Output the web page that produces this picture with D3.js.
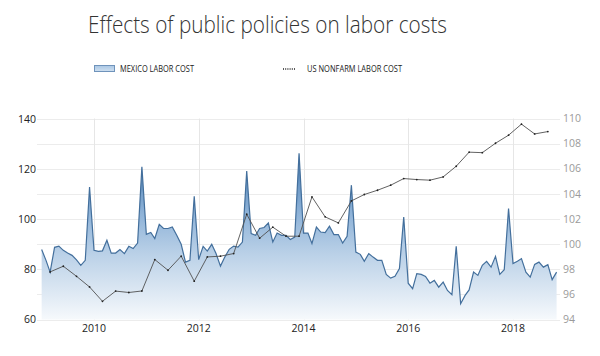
<!DOCTYPE html>
<html>
<head>
<meta charset="utf-8">
<script src="https://cdn.jsdelivr.net/npm/d3@7/dist/d3.min.js"></script>
<style>
  html, body { margin: 0; padding: 0; background: #fff; }
  svg { display: block; }
</style>
</head>
<body>
<svg id="chart" width="600" height="356"></svg>
<script>
// ---------- DATA ----------
const title = "Effects of public policies on labor costs";
const seriesNames = ["MEXICO LABOR COST", "US NONFARM LABOR COST"];

// Mexico labor cost, monthly, starting Jan 2009 (left axis)
const mexicoStart = [2009, 0];
const mexicoValues = [
  87.9, 83.5, 78.9, 88.8, 89.3, 87.6, 86.5, 85.6, 83.8, 81.6, 83.6, 112.9,
  87.6, 87.2, 87.4, 91.6, 86.5, 86.5, 87.9, 86.3, 89.2, 88.3, 90.5, 120.9,
  94.0, 94.7, 92.3, 98.0, 96.3, 96.3, 96.9, 93.6, 90.0, 82.9, 83.6, 109.2,
  83.9, 89.2, 87.3, 90.0, 86.3, 81.3, 84.9, 88.0, 89.3, 88.9, 90.9, 119.2,
  94.3, 93.6, 96.3, 96.7, 98.5, 90.9, 94.5, 93.6, 93.6, 91.9, 92.9, 126.3,
  94.5, 94.5, 90.3, 96.9, 94.9, 94.7, 97.2, 93.9, 93.9, 90.5, 93.2, 113.6,
  86.9, 86.0, 83.2, 86.3, 84.9, 83.6, 83.6, 78.0, 76.5, 77.2, 80.3, 100.9,
  74.5, 72.3, 78.3, 78.0, 77.2, 74.5, 75.6, 72.9, 74.9, 71.6, 69.9, 89.2,
  66.3, 69.6, 71.8, 78.9, 77.6, 81.6, 83.2, 80.9, 85.2, 78.0, 79.9, 104.3,
  82.3, 83.2, 84.3, 78.9, 76.9, 82.0, 82.9, 80.9, 81.9, 75.9, 78.9
];

// US nonfarm labor cost, quarterly, first point Mar 2009 (right axis)
const usStart = [2009, 2];
const usValues = [
  97.79, 98.24, 97.44, 96.59, 95.45, 96.26, 96.15, 96.27,
  98.77, 97.92, 99.04, 97.05, 98.98, 99.04, 99.25, 102.38,
  100.47, 101.35, 100.63, 100.63, 103.76, 102.17, 101.69, 103.44,
  103.95, 104.29, 104.69, 105.22, 105.14, 105.09, 105.35, 106.20,
  107.32, 107.28, 108.03, 108.67, 109.55, 108.77, 108.96
];

// Axis ticks
const leftTicks = [60, 80, 100, 120, 140];
const rightTicks = [94, 96, 98, 100, 102, 104, 106, 108, 110];
const yearTicks = [2010, 2012, 2014, 2016, 2018];

// ---------- BUILD ----------
const mexico = mexicoValues.map((v, i) => ({ date: new Date(mexicoStart[0], mexicoStart[1] + i, 1), v }));
const us = usValues.map((v, i) => ({ date: new Date(usStart[0], usStart[1] + 3 * i, 1), v }));

const svg = d3.select("#chart");
const FONT = "'Open Sans', 'Noto Sans', sans-serif";

const x = d3.scaleTime()
  .domain([new Date(2010, 0, 1), new Date(2018, 0, 1)])
  .range([94, 513]);
const yL = d3.scaleLinear().domain([60, 140]).range([319.5, 119]);
const yR = d3.scaleLinear().domain([94, 110]).range([319.5, 118.5]);

const gridX0 = 37, gridX1 = 560;

// Gradient
const defs = svg.append("defs");
const grad = defs.append("linearGradient")
  .attr("id", "mxGrad").attr("gradientUnits", "userSpaceOnUse")
  .attr("x1", 0).attr("x2", 0).attr("y1", yL(130)).attr("y2", yL(60));
grad.append("stop").attr("offset", 0).attr("stop-color", "#3a72ab");
grad.append("stop").attr("offset", 0.4).attr("stop-color", "#8fb3d8");
grad.append("stop").attr("offset", 0.62).attr("stop-color", "#b9d0e7");
grad.append("stop").attr("offset", 1).attr("stop-color", "#f6f9fc");

const lgGrad = defs.append("linearGradient")
  .attr("id", "lgGrad").attr("x1", 0).attr("x2", 0).attr("y1", 0).attr("y2", 1);
lgGrad.append("stop").attr("offset", 0).attr("stop-color", "#a9c6e4");
lgGrad.append("stop").attr("offset", 1).attr("stop-color", "#cfe0f0");

// Horizontal gridlines (at right-axis ticks)
svg.append("g").selectAll("line").data(rightTicks).join("line")
  .attr("x1", gridX0).attr("x2", gridX1)
  .attr("y1", d => Math.round(yR(d)) + 0.5).attr("y2", d => Math.round(yR(d)) + 0.5)
  .attr("stroke", "#ececec").attr("stroke-width", 1);

// Vertical gridlines
svg.append("g").selectAll("line").data(yearTicks).join("line")
  .attr("x1", d => Math.round(x(new Date(d, 0, 1))) + 0.5)
  .attr("x2", d => Math.round(x(new Date(d, 0, 1))) + 0.5)
  .attr("y1", yR(110)).attr("y2", yR(94))
  .attr("stroke", "#e6e6e6").attr("stroke-width", 1);

// Mexico area + line
const area = d3.area().x(d => x(d.date)).y0(yL(60)).y1(d => yL(d.v));
const line = d3.line().x(d => x(d.date)).y(d => yL(d.v));
svg.append("path").datum(mexico).attr("d", area).attr("fill", "url(#mxGrad)");
svg.append("path").datum(mexico).attr("d", line)
  .attr("fill", "none").attr("stroke", "#436f9c").attr("stroke-width", 1.2)
  .attr("stroke-linejoin", "miter");

// US line + dots
const usLine = d3.line().x(d => x(d.date)).y(d => yR(d.v));
svg.append("path").datum(us).attr("d", usLine)
  .attr("fill", "none").attr("stroke", "#505050").attr("stroke-width", 0.9);
svg.append("g").selectAll("circle").data(us).join("circle")
  .attr("cx", d => x(d.date)).attr("cy", d => yR(d.v)).attr("r", 0.9)
  .attr("fill", "#222");

// Left axis labels
svg.append("g").selectAll("text").data(leftTicks).join("text")
  .attr("x", 36).attr("y", d => yL(d)).attr("dy", "0.35em")
  .attr("text-anchor", "end").attr("font-family", FONT).attr("font-size", 10.5)
  .attr("fill", "#222").text(d => d);

// Right axis labels
svg.append("g").selectAll("text").data(rightTicks).join("text")
  .attr("x", 563).attr("y", d => yR(d)).attr("dy", "0.35em")
  .attr("text-anchor", "start").attr("font-family", FONT).attr("font-size", 10.5)
  .attr("fill", "#9a9a9a").text(d => d);

// Bottom axis labels
svg.append("g").selectAll("text").data(yearTicks).join("text")
  .attr("x", d => x(new Date(d, 0, 1))).attr("y", 332)
  .attr("text-anchor", "middle").attr("font-family", FONT).attr("font-size", 10.5)
  .attr("fill", "#222").text(d => d);

// Title
svg.append("text").attr("x", 88).attr("y", 33)
  .attr("font-family", FONT).attr("font-size", 23).attr("font-weight", 300).attr("fill", "#333")
  .attr("textLength", 359).attr("lengthAdjust", "spacingAndGlyphs")
  .text(title);

// Legend
svg.append("rect").attr("x", 94.5).attr("y", 65.5).attr("width", 20).attr("height", 6)
  .attr("fill", "url(#lgGrad)").attr("stroke", "#6f93bb").attr("stroke-width", 1);
svg.append("text").attr("x", 120).attr("y", 72)
  .attr("font-family", FONT).attr("font-size", 8.5).attr("fill", "#222")
  .attr("textLength", 74).attr("lengthAdjust", "spacingAndGlyphs")
  .text(seriesNames[0]);
svg.append("line").attr("x1", 283).attr("x2", 295).attr("y1", 69).attr("y2", 69)
  .attr("stroke", "#222").attr("stroke-width", 1.3).attr("stroke-dasharray", "1,1.2");
svg.append("text").attr("x", 307).attr("y", 72)
  .attr("font-family", FONT).attr("font-size", 8.5).attr("fill", "#222")
  .attr("textLength", 95).attr("lengthAdjust", "spacingAndGlyphs")
  .text(seriesNames[1]);
</script>
</body>
</html>
